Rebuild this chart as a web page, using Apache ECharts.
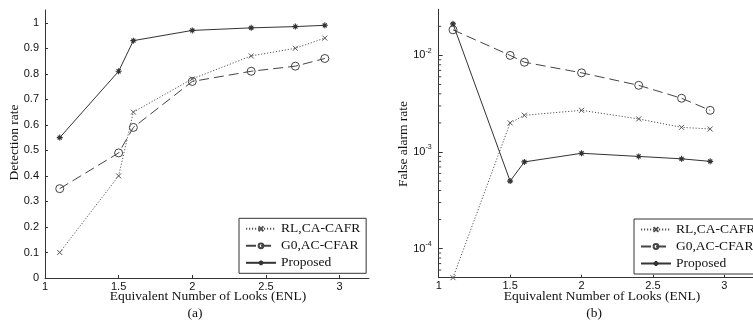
<!DOCTYPE html>
<html>
<head>
<meta charset="utf-8">
<script src="https://cdn.jsdelivr.net/npm/echarts@6/dist/echarts.min.js"></script>
<style>
html,body{margin:0;padding:0;background:#fff;}
#c{width:753px;height:321px;}
</style>
</head>
<body>
<div id="c"></div>
<script>
// ---- data ----
const enl = [1.1, 1.5, 1.6, 2.0, 2.4, 2.7, 2.9];
const seriesNames = ['RL,CA-CAFR', 'G0,AC-CFAR', 'Proposed'];
// (a) detection rate
const detRL = [0.10, 0.40, 0.65, 0.78, 0.87, 0.90, 0.94];
const detG0 = [0.35, 0.49, 0.59, 0.77, 0.81, 0.83, 0.86];
const detProp = [0.55, 0.81, 0.93, 0.97, 0.98, 0.985, 0.99];
// (b) false alarm rate
const faRL = [5.0e-5, 2.0e-3, 2.4e-3, 2.7e-3, 2.2e-3, 1.8e-3, 1.73e-3];
const faG0 = [1.84e-2, 1.0e-2, 8.5e-3, 6.6e-3, 4.9e-3, 3.6e-3, 2.7e-3];
const faProp = [2.12e-2, 5.0e-4, 7.9e-4, 9.7e-4, 9.0e-4, 8.5e-4, 8.0e-4];
// ticks
const xTicks = [1, 1.5, 2, 2.5, 3];
const yTicksA = [0, 0.1, 0.2, 0.3, 0.4, 0.5, 0.6, 0.7, 0.8, 0.9, 1];
const yTicksB = [1e-4, 1e-3, 1e-2];

const pairs = (xs, ys) => xs.map((x, i) => [x, ys[i]]);
const minorB = [];
[1e-5, 1e-4, 1e-3, 1e-2].forEach(d => { for (let k = 2; k <= 9; k++) { const v = k * d; if (v > 5e-5 && v < 3e-2) minorB.push(v); } });

const AX = '#333';
const sans = 'Liberation Sans';
const serif = 'Liberation Serif';

const symX = 'path://M0,0L10,10M10,0L0,10';
const symStar = 'path://M5,0L5,10M0,5L10,5M1.6,1.6L8.4,8.4M8.4,1.6L1.6,8.4';

function mkSeries(name, data, xi, yi, style) {
  const base = {
    name: name, type: 'line', data: data, xAxisIndex: xi, yAxisIndex: yi,
    clip: false, animation: false, showSymbol: true,
    lineStyle: { color: style.color, width: 1, type: style.type },
    emphasis: { disabled: true }
  };
  if (style.kind === 'x') {
    base.symbol = symX; base.symbolSize = 5;
    base.itemStyle = { color: 'rgba(0,0,0,0)', borderColor: style.color, borderWidth: 1 };
  } else if (style.kind === 'o') {
    base.symbol = 'circle'; base.symbolSize = 8;
    base.itemStyle = { color: 'rgba(0,0,0,0)', borderColor: style.color, borderWidth: 1 };
  } else {
    base.symbol = symStar; base.symbolSize = 6;
    base.itemStyle = { color: 'rgba(0,0,0,0)', borderColor: style.color, borderWidth: 1.1 };
  }
  return base;
}
const stRL = { color: '#555', type: [1.2, 1.8], kind: 'x' };
const stG0 = { color: '#444', type: [10, 5], kind: 'o' };
const stPr = { color: '#333', type: 'solid', kind: '*' };

function xAx(gi) {
  return {
    type: 'value', gridIndex: gi, min: 1, max: 3.2,
    axisLine: { show: true, lineStyle: { color: AX, width: 1 } },
    axisTick: { show: true, inside: true, length: 3, customValues: xTicks, lineStyle: { color: AX } },
    axisLabel: { customValues: xTicks, color: '#111', fontFamily: sans, fontSize: 11, margin: 3 },
    splitLine: { show: false }
  };
}

const legendCommon = {
  orient: 'vertical', itemWidth: 30, itemHeight: 6, itemGap: 0, itemTextGap: 7,
  borderColor: '#333', borderWidth: 1, backgroundColor: '#fff',
  textStyle: { fontFamily: serif, fontSize: 13.5, color: '#111', lineHeight: 17 },
  selectedMode: false
};

const option = {
  animation: false,
  backgroundColor: '#fff',
  grid: [
    { left: 45, top: 10, width: 324, height: 268 },
    { left: 438.7, top: 9.3, width: 325.6, height: 268.4 }
  ],
  xAxis: [xAx(0), xAx(1)],
  yAxis: [
    {
      type: 'value', gridIndex: 0, min: 0, max: 1.05, position: 'left',
      axisLine: { show: true, lineStyle: { color: AX, width: 1 } },
      axisTick: { show: true, inside: true, length: 3, customValues: yTicksA, lineStyle: { color: AX } },
      axisLabel: { customValues: yTicksA, color: '#111', fontFamily: sans, fontSize: 11, margin: 6 },
      splitLine: { show: false }
    },
    {
      type: 'log', logBase: 10, gridIndex: 1, min: 5e-5, max: 3e-2, position: 'left',
      axisLine: { show: true, lineStyle: { color: AX, width: 1 } },
      axisTick: { show: true, inside: true, length: 4, customValues: yTicksB, lineStyle: { color: AX } },
      axisLabel: {
        customValues: yTicksB, color: '#111', fontFamily: sans, margin: 7,
        formatter: v => '{b|10}{s|' + Math.round(Math.log10(v)) + '}',
        rich: {
          b: { fontFamily: sans, fontSize: 11, color: '#111' },
          s: { fontFamily: sans, fontSize: 7, color: '#111', padding: [0, 0, 9, 0] }
        }
      },
      minorTick: { show: false },
      splitLine: { show: false }
    }
  ],
  legend: [
    Object.assign({}, legendCommon, {
      left: 239, top: 218.3, padding: [2, 6, 2, 6],
      data: seriesNames.map(n => ({ name: n })),
    }),
  ],
  series: [
    mkSeries(seriesNames[0], pairs(enl, detRL), 0, 0, stRL),
    mkSeries(seriesNames[1], pairs(enl, detG0), 0, 0, stG0),
    mkSeries(seriesNames[2], pairs(enl, detProp), 0, 0, stPr),
    mkSeries(seriesNames[0] + ' ', pairs(enl, faRL), 1, 1, stRL),
    mkSeries(seriesNames[1] + ' ', pairs(enl, faG0), 1, 1, stG0),
    mkSeries(seriesNames[2] + ' ', pairs(enl, faProp), 1, 1, stPr),
    {
      // minor log ticks on panel (b) y axis, positioned through the log axis scale
      type: 'custom', xAxisIndex: 1, yAxisIndex: 1, silent: true, clip: false,
      data: minorB.map(v => [1, v]),
      renderItem: (params, api) => {
        const p = api.coord([api.value(0), api.value(1)]);
        return { type: 'line', shape: { x1: p[0], y1: p[1], x2: p[0] + 2.5, y2: p[1] }, style: { stroke: '#444', lineWidth: 1 } };
      }
    }
  ],
  graphic: [
    { type: 'text', x: 208, y: 296, style: { text: 'Equivalent Number of Looks (ENL)', font: '13.5px "Liberation Serif"', fill: '#111', textAlign: 'center', textVerticalAlign: 'middle' } },
    { type: 'text', x: 195, y: 313, style: { text: '(a)', font: '13.5px "Liberation Serif"', fill: '#111', textAlign: 'center', textVerticalAlign: 'middle' } },
    { type: 'text', x: 602, y: 296.5, style: { text: 'Equivalent Number of Looks (ENL)', font: '13.5px "Liberation Serif"', fill: '#111', textAlign: 'center', textVerticalAlign: 'middle' } },
    { type: 'text', x: 594, y: 313, style: { text: '(b)', font: '13.5px "Liberation Serif"', fill: '#111', textAlign: 'center', textVerticalAlign: 'middle' } },
    { type: 'text', x: 14, y: 142.5, rotation: Math.PI / 2, style: { text: 'Detection rate', font: '13.5px "Liberation Serif"', fill: '#111', textAlign: 'center', textVerticalAlign: 'middle' } },
    { type: 'text', x: 403, y: 144, rotation: Math.PI / 2, style: { text: 'False alarm rate', font: '13.5px "Liberation Serif"', fill: '#111', textAlign: 'center', textVerticalAlign: 'middle' } }
  ]
};
// second legend for panel (b), names with trailing space shown trimmed
option.legend.push(Object.assign({}, legendCommon, {
  left: 634, top: 219, padding: [2, 6, 2, 6],
  data: seriesNames.map(n => ({ name: n + ' ' })),
  formatter: n => n.trim()
}));

const chart = echarts.init(document.getElementById('c'), null, { renderer: 'canvas' });
chart.setOption(option);
</script>
</body>
</html>
